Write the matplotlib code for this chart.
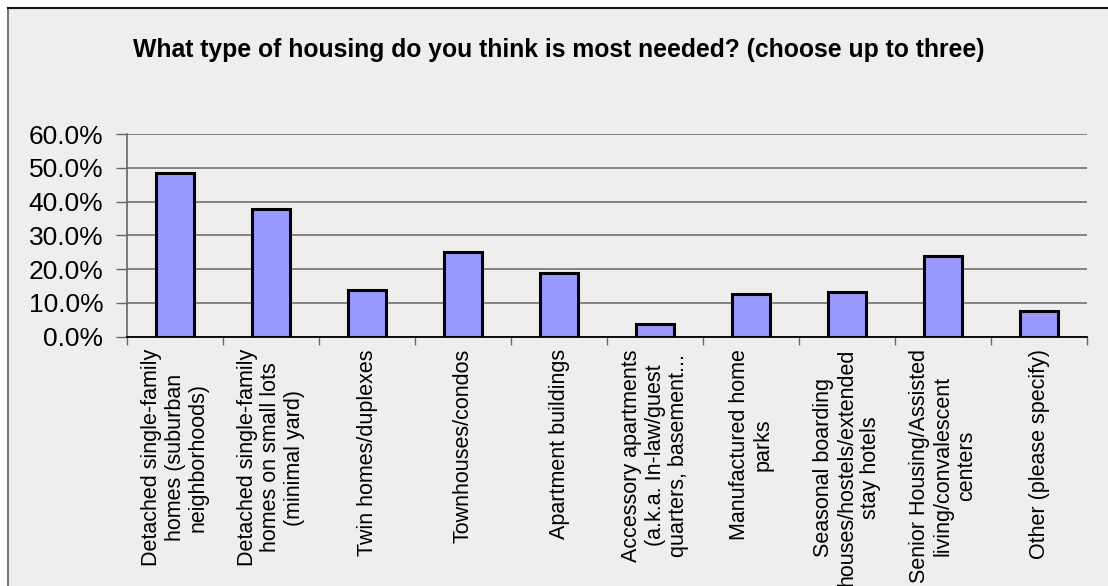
import matplotlib
matplotlib.use("Agg")
import matplotlib.pyplot as plt
from matplotlib.patches import Rectangle
from matplotlib.ticker import FixedLocator, FuncFormatter

title = "What type of housing do you think is most needed? (choose up to three)"
categories = [
    "Detached single-family\nhomes (suburban\nneighborhoods)",
    "Detached single-family\nhomes on small lots\n(minimal yard)",
    "Twin homes/duplexes",
    "Townhouses/condos",
    "Apartment buildings",
    "Accessory apartments\n(a.k.a. In-law/guest\nquarters, basement...",
    "Manufactured home\nparks",
    "Seasonal boarding\nhouses/hostels/extended\nstay hotels",
    "Senior Housing/Assisted\nliving/convalescent\ncenters",
    "Other (please specify)",
]
values = [48.4, 37.7, 13.9, 25.0, 18.9, 3.7, 12.6, 13.2, 23.9, 7.5]
y_ticks = [0, 10, 20, 30, 40, 50, 60]

plt.rcParams["font.family"] = ["Liberation Sans", "DejaVu Sans"]

W, H = 1108, 586
fig = plt.figure(figsize=(W / 100, H / 100), dpi=100, facecolor="white")

# chart area panel with its frame
fig.patches.append(Rectangle((7.5 / W, -0.1), 1.2, (H - 7.5) / H + 0.1,
                             transform=fig.transFigure, facecolor="#EEEEEE",
                             edgecolor="none", zorder=-10))
fig.lines.append(plt.Line2D([7.5 / W, 7.5 / W], [0, (H - 7.5) / H],
                            transform=fig.transFigure, color="#777777", linewidth=1.5))
fig.lines.append(plt.Line2D([7.5 / W, 1], [(H - 7.5) / H, (H - 7.5) / H],
                            transform=fig.transFigure, color="#111111", linewidth=1.5))

ax = fig.add_axes([127 / W, 1 - 336.5 / H, (1087 - 127) / W, (336.5 - 134) / H])
ax.set_facecolor("#EEEEEE")

x = list(range(len(categories)))
ax.bar(x, values, width=0.4, color="#9999FF", edgecolor="black", linewidth=2.2, zorder=3)

ax.set_xlim(-0.5, len(categories) - 0.5)
ax.set_ylim(0, 60)

ax.yaxis.set_major_locator(FixedLocator(y_ticks))
ax.yaxis.set_major_formatter(FuncFormatter(lambda v, p: f"{v:.1f}%"))
ax.tick_params(axis="y", labelsize=19, length=8, width=1, color="#666666", pad=9)
ax.grid(axis="y", color="#7a7a7a", linewidth=1.3, zorder=0)

ax.set_xticks(x)
ax.set_xticklabels(categories, rotation=90, fontsize=15.5, va="top", ha="center",
                   linespacing=1.14)
ax.tick_params(axis="x", which="major", length=0, pad=9)
ax.set_xticks([i - 0.5 for i in range(len(categories) + 1)], minor=True)
ax.tick_params(axis="x", which="minor", length=6, width=1, color="#666666")

for side in ("top", "right"):
    ax.spines[side].set_visible(False)
ax.spines["left"].set_color("#666666")
ax.spines["left"].set_linewidth(1.2)
ax.spines["bottom"].set_color("black")
ax.spines["bottom"].set_linewidth(1.3)
ax.spines["bottom"].set_zorder(4)

fig.text(559 / W, 1 - 50 / H, title, ha="center", va="center", fontsize=17.8,
         fontweight="bold")

fig.savefig("out.png", dpi=100, facecolor=fig.get_facecolor())
